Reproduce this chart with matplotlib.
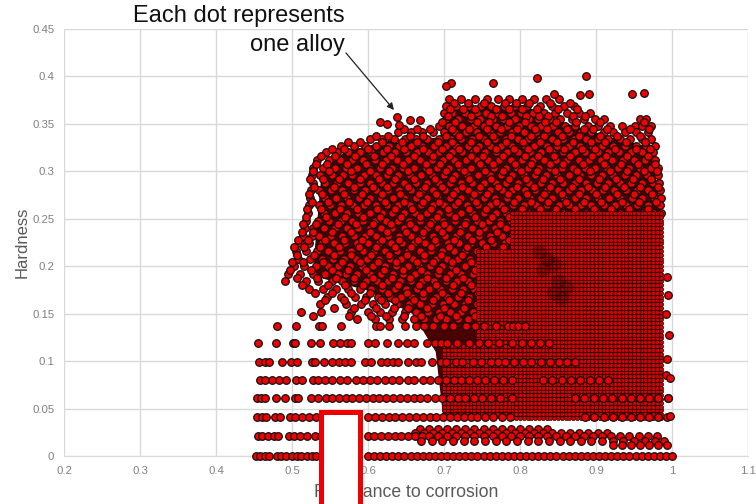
import numpy as np
import matplotlib
matplotlib.use('Agg')
import matplotlib.pyplot as plt
from matplotlib.patches import Rectangle

plt.rcParams['font.family'] = ['Liberation Sans', 'DejaVu Sans']

# alloys: hardness level, then corrosion values (x1000)
cloud_levels = [0.376, 0.369, 0.362, 0.355, 0.348, 0.341, 0.334, 0.327, 0.320, 0.312,
                0.304, 0.296, 0.288, 0.280, 0.272, 0.264, 0.256, 0.248, 0.240, 0.232,
                0.224, 0.216, 0.208, 0.200, 0.192, 0.184, 0.176, 0.168, 0.160, 0.152, 0.144]
cloud_rows = [
    [706, 722, 741, 757, 771, 786, 803, 818, 834, 851],
    [702, 716, 733, 749, 762, 779, 794, 809, 826, 842, 858, 871],
    [700, 711, 727, 743, 755, 770, 788, 801, 817, 831, 846, 862, 878, 892],
    [703, 718, 735, 748, 764, 778, 793, 812, 824, 839, 853, 868, 884, 899, 911, 958, 966],
    [693, 707, 724, 739, 752, 769, 783, 799, 815, 828, 844, 859, 873, 889, 902, 919, 934, 951, 961, 972],
    [640, 657, 671, 686, 700, 715, 729, 744, 760, 774, 790, 805, 821, 836, 850, 865, 880, 894, 910, 923, 938, 953, 968],
    [602, 618, 634, 649, 663, 678, 694, 709, 722, 737, 753, 767, 782, 797, 811, 826, 842, 857, 871, 887, 902, 916, 931, 945, 960, 973],
    [565, 581, 596, 611, 627, 641, 656, 671, 687, 702, 716, 731, 746, 761, 775, 790, 806, 819, 835, 849, 864, 879, 895, 908, 923, 938, 952, 966, 977],
    [545, 559, 574, 590, 604, 620, 635, 650, 665, 679, 694, 710, 724, 738, 754, 769, 783, 798, 813, 828, 842, 857, 872, 886, 902, 916, 930, 946, 960, 975],
    [533, 549, 563, 579, 594, 609, 624, 638, 653, 669, 684, 699, 713, 729, 743, 758, 773, 788, 803, 817, 832, 848, 862, 877, 891, 906, 921, 936, 950, 965, 978],
    [528, 541, 556, 571, 586, 601, 616, 631, 646, 661, 676, 691, 706, 721, 736, 751, 766, 781, 796, 811, 825, 840, 855, 870, 885, 899, 914, 929, 944, 958, 972, 981],
    [526, 537, 552, 567, 579, 595, 611, 625, 640, 655, 670, 684, 700, 715, 730, 745, 760, 775, 789, 805, 820, 834, 849, 864, 879, 894, 908, 923, 938, 953, 967, 982],
    [527, 544, 559, 574, 589, 603, 618, 633, 648, 663, 678, 693, 708, 723, 737, 753, 768, 782, 797, 812, 827, 842, 857, 872, 887, 901, 916, 931, 946, 961, 975, 983],
    [525, 536, 551, 566, 581, 596, 611, 626, 641, 656, 671, 686, 701, 716, 731, 746, 761, 776, 790, 806, 820, 835, 850, 865, 880, 895, 909, 924, 939, 954, 968, 984],
    [524, 543, 558, 572, 588, 603, 617, 633, 647, 663, 677, 692, 708, 722, 738, 752, 767, 783, 797, 813, 827, 842, 858, 872, 887, 902, 917, 931, 947, 961, 976, 985],
    [523, 535, 550, 565, 580, 595, 610, 625, 640, 655, 670, 685, 700, 715, 730, 745, 760, 775, 791, 805, 821, 835, 851, 865, 880, 894, 910, 925, 940, 954, 969, 984],
    [521, 542, 557, 573, 587, 602, 618, 632, 648, 662, 678, 693, 707, 723, 737, 752, 768, 782, 798, 812, 828, 843, 857, 873, 887, 903, 917, 932, 946, 962, 976, 986],
    [519, 534, 549, 564, 579, 594, 609, 624, 639, 654, 669, 684, 699, 714, 729, 744, 759, 774, 788],
    [517, 528, 542, 557, 572, 587, 602, 617, 632, 647, 662, 677, 692, 707, 722, 737, 752, 767, 782],
    [514, 526, 536, 551, 566, 581, 596, 611, 626, 641, 656, 671, 686, 701, 716, 731, 746, 761, 776, 789],
    [510, 522, 540, 555, 570, 585, 600, 615, 630, 645, 660, 675, 690, 705, 720, 735, 750, 765, 780],
    [505, 518, 533, 548, 563, 578, 593, 608, 623, 638, 653, 668, 683, 698, 713, 728, 743, 758, 773, 788],
    [508, 524, 539, 554, 569, 584, 599, 614, 629, 644, 659, 674, 689, 704, 719, 734, 749, 764, 779],
    [503, 516, 532, 547, 561, 576, 592, 606, 622, 637, 652, 667, 682, 697, 711, 727, 742, 757, 772, 787],
    [495, 511, 527, 543, 560, 571, 586, 603, 617, 633, 646, 662, 677, 692, 708, 722, 738, 752, 768, 782],
    [491, 518, 534, 552, 566, 581, 597, 612, 626, 642, 657, 671, 687, 702, 717, 731, 747, 762, 777, 789],
    [522, 541, 558, 574, 590, 604, 619, 635, 650, 664, 680, 695, 710, 725, 740, 755, 770, 785],
    [546, 565, 583, 598, 613, 629, 643, 658, 672, 689, 704, 719, 733, 749, 764, 779],
    [537, 571, 591, 607, 622, 638, 654, 668, 684, 699, 713, 728, 744, 758, 773, 788],
    [512, 538, 578, 600, 616, 631, 649, 663, 679, 693, 708, 723, 738, 753, 769, 784],
    [586, 609, 627, 645, 660, 674, 690, 703, 718, 732, 747, 763, 778],
]

# the alloys in between those rows
fill_levels = [0.3725, 0.3655, 0.3585, 0.3515, 0.3445, 0.3375, 0.3305, 0.3235, 0.316, 0.308,
               0.300, 0.292, 0.284, 0.276, 0.268, 0.260, 0.252, 0.244, 0.236, 0.228,
               0.220, 0.212, 0.204, 0.196, 0.188, 0.180, 0.172, 0.164, 0.156, 0.148]
fill_rows = [
    [713, 731, 752, 780, 795, 812, 840, 866],
    [708, 725, 741, 768, 785, 803, 822, 850, 875],
    [705, 735, 762, 776, 808, 825, 837, 870, 885],
    [697, 714, 743, 759, 786, 806, 833, 848, 874, 905, 963],
    [648, 665, 682, 710, 733, 756, 775, 796, 820, 835, 862, 884, 896, 915, 945, 970],
    [610, 626, 655, 673, 702, 720, 746, 765, 788, 814, 832, 855, 878, 905, 928, 958],
    [574, 590, 618, 645, 664, 692, 711, 735, 757, 782, 804, 826, 849, 870, 893, 912, 939, 965],
    [552, 569, 600, 625, 648, 672, 698, 720, 742, 768, 792, 810, 838, 858, 881, 899, 925, 952, 971],
    [538, 556, 583, 608, 630, 661, 685, 706, 735, 751, 777, 806, 824, 845, 866, 895, 913, 941, 968],
    [531, 546, 572, 597, 618, 646, 676, 695, 719, 748, 764, 793, 815, 840, 857, 883, 911, 933, 955, 977],
    [527, 549, 577, 603, 628, 652, 680, 703, 726, 754, 778, 801, 822, 846, 875, 892, 918, 941, 963, 980],
    [524, 541, 562, 590, 614, 636, 660, 688, 710, 733, 762, 785, 808, 830, 853, 877, 904, 926, 949, 972],
    [529, 555, 582, 607, 625, 653, 675, 697, 724, 747, 771, 796, 818, 839, 868, 889, 912, 937, 958, 981],
    [522, 540, 568, 592, 619, 642, 667, 690, 712, 739, 757, 784, 809, 831, 855, 878, 900, 928, 950, 974],
    [526, 548, 575, 599, 622, 648, 672, 694, 718, 742, 769, 792, 815, 837, 861, 884, 907, 934, 956, 979],
    [520, 538, 563, 585, 612, 635, 658, 683, 705, 733, 755, 779, 803, 826, 848, 872, 897, 920, 943, 968],
    [518, 545, 570, 594, 616, 644, 668, 691, 715, 741, 763, 785],
    [515, 532, 560, 584, 607, 630, 655, 681, 700, 727, 750, 774],
    [513, 527, 553, 577, 603, 625, 650, 673, 697, 721, 746, 770],
    [508, 521, 544, 568, 592, 618, 641, 666, 688, 713, 737, 762, 786],
    [503, 516, 537, 562, 588, 610, 635, 657, 683, 706, 730, 755, 778],
    [507, 529, 555, 578, 604, 627, 651, 674, 696, 724, 748, 771],
    [500, 514, 541, 566, 590, 613, 637, 664, 686, 710, 735, 758, 783],
    [498, 525, 552, 574, 598, 621, 646, 670, 693, 716, 741, 766],
    [506, 533, 558, 582, 607, 632, 655, 678, 703, 725, 752, 776],
    [513, 547, 570, 594, 619, 640, 667, 690, 712, 736, 760, 784],
    [530, 553, 578, 602, 626, 651, 673, 698, 722, 745, 768],
    [543, 568, 596, 617, 636, 661, 685, 707, 731, 756, 780],
    [555, 582, 611, 634, 653, 677, 700, 726, 750, 774],
    [528, 575, 604, 624, 648, 670, 695, 716, 741, 767],
]

band_levels = [0.137, 0.119, 0.099, 0.080, 0.061, 0.041, 0.028, 0.024, 0.021, 0.016, 0.012, 0.0]
band_rows = [
    [480, 505, 535, 540, 565, 610, 616, 628, 649, 663, 674, 686, 700, 712, 729, 741, 753, 768, 784, 791, 797, 806],
    [455, 479, 501, 504, 525, 537, 554, 563, 573, 578, 600, 609, 625, 639, 651, 660, 678, 688, 696, 704, 717, 733, 746, 758, 772, 790, 802, 814, 826, 838],
    [457, 464, 470, 487, 499, 506, 526, 530, 542, 553, 562, 570, 578, 596, 604, 617, 625, 633, 640, 652, 663, 670, 684, 696, 703, 716, 724, 738, 749, 762, 771, 780, 792, 804, 815, 828, 840, 851, 862, 873],
    [458, 464, 474, 483, 492, 505, 513, 528, 534, 544, 552, 563, 572, 584, 594, 603, 612, 622, 632, 641, 652, 661, 672, 681, 692, 703, 713, 723, 733, 744, 754, 766, 778, 790, 830, 842, 855, 867, 879, 892, 904, 916],
    [454, 459, 465, 479, 491, 504, 508, 525, 534, 545, 553, 562, 571, 579, 588, 597, 606, 615, 624, 633, 642, 651, 660, 669, 678, 688, 698, 708, 718, 728, 739, 750, 762, 774, 790, 872, 884, 897, 909, 921, 934, 946, 958, 970, 982, 995],
    [454, 460, 466, 478, 484, 498, 504, 513, 522, 531, 540, 549, 600, 609, 618, 627, 636, 645, 654, 663, 672, 681, 690, 699, 708, 717, 726, 735, 744, 754, 765, 776, 787, 886, 898, 910, 922, 934, 946, 958, 970, 982, 994],
    [668, 680, 692, 704, 716, 728, 740, 752, 764, 776, 788, 800, 812, 824, 836],
    [662, 674, 686, 698, 710, 722, 734, 746, 758, 770, 782, 794, 806, 818, 830, 842, 854, 866, 878, 890, 902, 914],
    [455, 461, 468, 476, 481, 496, 502, 510, 520, 530, 538, 600, 608, 617, 626, 635, 644, 653, 662, 671, 680, 692, 704, 716, 728, 740, 752, 764, 776, 788, 800, 812, 824, 836, 848, 860, 872, 884, 896, 908, 920, 932, 944, 956, 968, 980],
    [670, 684, 698, 712, 726, 740, 754, 768, 782, 796, 810, 824, 838, 852, 866, 880, 894, 908, 922, 936, 950, 964, 978, 990],
    [922, 934, 946, 958, 970, 982, 994],
    [452, 458, 464, 470, 480, 486, 492, 500, 506, 512, 520, 526, 532, 540, 600, 608, 616, 624, 632, 640, 648, 656, 664, 672, 680, 688, 696, 704, 712, 720, 728, 736, 744, 752, 760, 768, 776, 784, 792, 800, 808, 816, 824, 832, 840, 848, 856, 864, 872, 880, 888, 896, 904, 912, 920, 928, 936, 944, 952, 960, 968, 976, 984, 992, 1000],
]

# tightly packed parts of the cloud, corrosion and hardness levels
lattice_x = [0.790, 0.795, 0.800, 0.805, 0.810, 0.815, 0.820, 0.825, 0.830, 0.835, 0.840, 0.845, 0.850, 0.855,
             0.860, 0.865, 0.870, 0.875, 0.880, 0.885, 0.890, 0.895, 0.900, 0.905, 0.910, 0.915, 0.920, 0.925,
             0.930, 0.935, 0.940, 0.945, 0.950, 0.955, 0.960, 0.965, 0.970, 0.975, 0.980, 0.985]
lattice_y = [0.040, 0.044, 0.048, 0.052, 0.056, 0.060, 0.064, 0.068, 0.072, 0.076, 0.080, 0.084, 0.088, 0.092,
             0.096, 0.100, 0.104, 0.108, 0.112, 0.116, 0.120, 0.124, 0.128, 0.132, 0.136, 0.140, 0.144, 0.148,
             0.152, 0.156, 0.160, 0.164, 0.168, 0.172, 0.176, 0.180, 0.184, 0.188, 0.192, 0.196, 0.200, 0.204,
             0.208, 0.212, 0.216, 0.220, 0.224, 0.228, 0.232, 0.236, 0.240, 0.244, 0.248, 0.252, 0.256]
left_lattice_x = [0.745, 0.750, 0.755, 0.760, 0.765, 0.770, 0.775, 0.780, 0.785]
left_lattice_y = [0.100, 0.104, 0.108, 0.112, 0.116, 0.120, 0.124, 0.128, 0.132, 0.136, 0.140, 0.144, 0.148,
                  0.152, 0.156, 0.160, 0.164, 0.168, 0.172, 0.176, 0.180, 0.184, 0.188, 0.192, 0.196, 0.200,
                  0.204, 0.208, 0.212, 0.216]
low_lattice_x = [0.700, 0.705, 0.710, 0.715, 0.720, 0.725, 0.730, 0.735, 0.740, 0.745, 0.750, 0.755, 0.760,
                 0.765, 0.770, 0.775, 0.780, 0.785]
low_lattice_y = [0.044, 0.048, 0.052, 0.056, 0.060, 0.064, 0.068, 0.072, 0.076, 0.080, 0.084, 0.088, 0.092, 0.096,
                 0.100, 0.104, 0.108, 0.112, 0.116]

# where the most alloys pile up inside the packed part
pile_x = [0.825, 0.835, 0.845, 0.830, 0.850, 0.860, 0.845, 0.855]
pile_y = [0.215, 0.208, 0.202, 0.197, 0.184, 0.178, 0.172, 0.166]

# the solitary alloys
lone_x = [0.822, 0.887, 0.845, 0.879, 0.891, 0.947, 0.963, 0.709, 0.703, 0.764, 0.638, 0.655, 0.668, 0.616, 0.625, 0.641,
          0.993, 0.995, 0.992, 0.996, 0.994, 0.992, 0.998, 0.995, 0.997]
lone_y = [0.398, 0.400, 0.382, 0.380, 0.382, 0.381, 0.383, 0.393, 0.390, 0.393, 0.357, 0.354, 0.354, 0.352, 0.350, 0.349,
          0.189, 0.170, 0.150, 0.128, 0.102, 0.085, 0.082, 0.061, 0.042]

# outline of the area where the dots leave no background showing
mass_x = [0.530, 0.540, 0.570, 0.630, 0.695, 0.710, 0.800, 0.860, 0.920, 0.970, 0.985, 0.985, 0.700, 0.690, 0.660, 0.600, 0.530]
mass_y = [0.210, 0.300, 0.320, 0.332, 0.335, 0.365, 0.370, 0.350, 0.335, 0.325, 0.260, 0.040, 0.040, 0.110, 0.150, 0.175, 0.190]

x_ticks = [0.2, 0.3, 0.4, 0.5, 0.6, 0.7, 0.8, 0.9, 1, 1.1]
y_ticks = [0, 0.05, 0.1, 0.15, 0.2, 0.25, 0.3, 0.35, 0.4, 0.45]

fig = plt.figure(figsize=(7.56, 5.04), dpi=100)
ax = fig.add_axes([64 / 756, 48 / 504, 684 / 756, 427 / 504])

dots = dict(s=30, c='#f00000', edgecolors='#111111', linewidths=0.9, clip_on=False)
packed = dict(s=9, c='#d80000', edgecolors='#200000', linewidths=0.5, clip_on=False)


def lattice(xs, ys, z):
    gx, gy = np.meshgrid(xs, ys)
    ax.scatter(gx.ravel(), gy.ravel(), zorder=z, **packed)


ax.fill(mass_x, mass_y, color='#4a0000', zorder=2)

for lev, row in zip(cloud_levels, cloud_rows):
    ax.scatter(np.array(row) / 1000, [lev] * len(row), zorder=3, **dots)
for lev, row in zip(fill_levels, fill_rows):
    ax.scatter(np.array(row) / 1000, [lev] * len(row), zorder=4, **dots)
# the packed part sits on its own dark ground, as its dots hide the ones above them
ax.fill([lattice_x[0], lattice_x[-1], lattice_x[-1], lattice_x[0]],
        [lattice_y[0], lattice_y[0], lattice_y[-1], lattice_y[-1]], color='#4a0000', zorder=5)
ax.fill([low_lattice_x[0], low_lattice_x[-1], low_lattice_x[-1], low_lattice_x[0]],
        [low_lattice_y[0], low_lattice_y[0], low_lattice_y[-1], low_lattice_y[-1]], color='#4a0000', zorder=5)
ax.fill([left_lattice_x[0], left_lattice_x[-1], left_lattice_x[-1], left_lattice_x[0]],
        [left_lattice_y[0], left_lattice_y[0], left_lattice_y[-1], left_lattice_y[-1]], color='#4a0000', zorder=5)
lattice(lattice_x, lattice_y, 5.5)
lattice(left_lattice_x, left_lattice_y, 5.5)
lattice(low_lattice_x, low_lattice_y, 5.5)
ax.scatter(pile_x, pile_y, s=110, c='black', alpha=0.22, linewidths=0, zorder=5.7)
for lev, row in zip(band_levels, band_rows):
    ax.scatter(np.array(row) / 1000, [lev] * len(row), zorder=6, **dots)
ax.scatter(lone_x, lone_y, zorder=6, **dots)

ax.set_xlim(0.2, 1.1)
ax.set_ylim(0, 0.45)
ax.set_xticks(x_ticks)
ax.set_xticklabels(['0.2', '0.3', '0.4', '0.5', '0.6', '0.7', '0.8', '0.9', '1', '1.1'])
ax.set_yticks(y_ticks)
ax.set_yticklabels(['0', '0.05', '0.1', '0.15', '0.2', '0.25', '0.3', '0.35', '0.4', '0.45'])
ax.tick_params(length=0, labelsize=8.2, labelcolor='#808080', pad=7)
ax.grid(True, color='#d9d9d9', lw=1)
ax.set_axisbelow(True)
for s in ['top', 'right', 'left']:
    ax.spines[s].set_visible(False)
ax.spines['bottom'].set_color('#d9d9d9')

ax.set_xlabel('Resistance to corrosion', fontsize=12.7, color='#595959', labelpad=6)
ax.set_ylabel('Hardness', fontsize=12, color='#595959', labelpad=2)

fig.text(345 / 756, 1 - 16 / 504, 'Each dot represents', fontsize=17, ha='right', va='center', color='#111111')
fig.text(345 / 756, 1 - 45 / 504, 'one alloy', fontsize=17, ha='right', va='center', color='#111111')
ax.annotate('', xy=(394 / 756, 1 - 110 / 504), xytext=(346 / 756, 1 - 53 / 504),
            xycoords='figure fraction', textcoords='figure fraction',
            arrowprops=dict(arrowstyle='-|>', color='#222222', lw=0.9, shrinkA=0, shrinkB=0), zorder=8)

# box over part of the axis label
fig.add_artist(Rectangle((320.5 / 756, -0.05), 39 / 756, (504 - 412) / 504 + 0.05, transform=fig.transFigure,
                         facecolor='white', edgecolor='#ee0000', lw=3.6, zorder=10))

fig.savefig('out.png', dpi=100)
